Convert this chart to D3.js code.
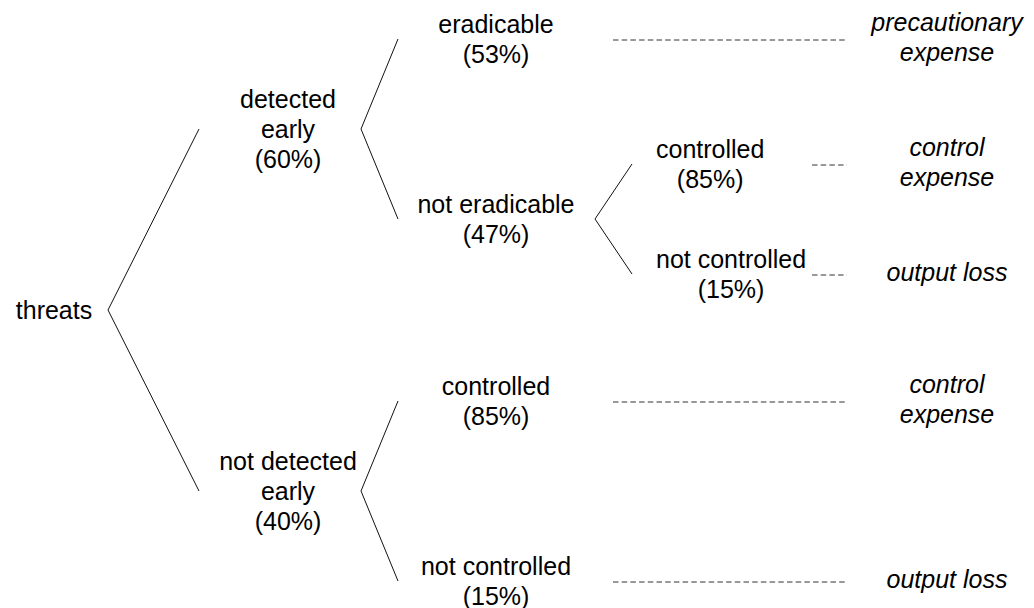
<!DOCTYPE html>
<html>
<head>
<meta charset="utf-8">
<script src="https://cdn.jsdelivr.net/npm/d3@7"></script>
<style>
  html, body { margin: 0; padding: 0; background: #fff; }
  svg { display: block; }
  text { font-family: "Liberation Sans", Arial, Helvetica, sans-serif; font-size: 25px; fill: #000; }
</style>
</head>
<body>
<svg id="chart" width="1034" height="608"></svg>
<script>
// ---- data ----
const nodeIds      = ["root", "det", "notdet", "erad", "noterad", "ctl", "notctl", "ndctl", "ndnotctl"];
const nodeParents  = [null, "root", "root", "det", "det", "noterad", "noterad", "notdet", "notdet"];
const nodeNames    = ["threats", "detected\nearly", "not detected\nearly", "eradicable", "not eradicable",
                      "controlled", "not controlled", "controlled", "not controlled"];
const nodeProbs    = [null, 60, 40, 53, 47, 85, 15, 85, 15];
const outcomeNames = [null, null, null, "precautionary\nexpense", null,
                      "control\nexpense", "output loss", "control\nexpense", "output loss"];

// ---- layout settings ----
const W = 1034, H = 608;
const rootY = 310;
const spread = [181, 90, 55];          // half vertical spread of branches leaving depth d
const vertexX = [108, 361, 595];       // x of the branching vertex at depth d
const endX = [null, 199, 398, 632];    // x where the branch reaching depth d ends
const labelX = [54, 288, 496, 656];    // label centre (depth 3: block left)
const dashStartX = [null, null, 613, 812];
const dashEndX = 847;
const outcomeX = 947;
const lineH = 30;

const rows = nodeIds.map((id, i) => ({
  id, parent: nodeParents[i], name: nodeNames[i], prob: nodeProbs[i], outcome: outcomeNames[i]
}));
const root = d3.stratify().id(d => d.id).parentId(d => d.parent)(rows);

root.each(n => { if (n.children) n.children.sort((a, b) => nodeIds.indexOf(a.id) - nodeIds.indexOf(b.id)); });

const y = d3.scaleLinear().domain([0, 1]).range([rootY, rootY + 1]);
root.y = y(0);
root.eachBefore(n => {
  if (n.children) {
    const s = spread[n.depth];
    n.children.forEach((c, i) => { c.y = n.y + (i === 0 ? -s : s); });
  }
});

const svg = d3.select("#chart");

// branches
const branches = [];
root.each(n => { if (n.parent) branches.push(n); });
svg.append("g").selectAll("line").data(branches).join("line")
  .attr("x1", d => vertexX[d.parent.depth])
  .attr("y1", d => d.parent.y)
  .attr("x2", d => endX[d.depth])
  .attr("y2", d => d.y)
  .attr("stroke", "#111")
  .attr("stroke-width", 1);

// labels
function linesOf(d) {
  const ls = d.data.name.split("\n");
  if (d.data.prob != null) ls.push("(" + d.data.prob + "%)");
  return ls;
}
const labels = svg.append("g").selectAll("text").data(root.descendants()).join("text")
  .attr("text-anchor", "middle");
labels.each(function(d) {
  const ls = linesOf(d);
  const t = d3.select(this);
  ls.forEach((l, i) => {
    t.append("tspan")
      .attr("x", labelX[d.depth])
      .attr("y", d.y + (i - (ls.length - 1) / 2) * lineH + 8.5)
      .text(l);
  });
});
labels.filter(d => d.depth === 3).each(function(d) {
  const t = d3.select(this);
  let maxW = 0;
  t.selectAll("tspan").each(function() { maxW = Math.max(maxW, this.getComputedTextLength()); });
  t.selectAll("tspan").attr("x", labelX[3] + maxW / 2);
});

// leaves: dashed connectors and outcomes
const leaves = root.leaves();
svg.append("g").selectAll("line").data(leaves).join("line")
  .attr("x1", d => dashStartX[d.depth])
  .attr("x2", dashEndX)
  .attr("y1", d => d.y + 1)
  .attr("y2", d => d.y + 1)
  .attr("stroke", "#333")
  .attr("stroke-width", 1)
  .attr("stroke-dasharray", "5.5,3.2");

const outs = svg.append("g").selectAll("text").data(leaves).join("text")
  .attr("text-anchor", "middle")
  .attr("font-style", "italic");
outs.each(function(d) {
  const ls = d.data.outcome.split("\n");
  const t = d3.select(this);
  ls.forEach((l, i) => {
    t.append("tspan")
      .attr("x", outcomeX)
      .attr("y", d.y + (i - (ls.length - 1) / 2) * lineH + 7)
      .text(l);
  });
});
</script>
</body>
</html>
